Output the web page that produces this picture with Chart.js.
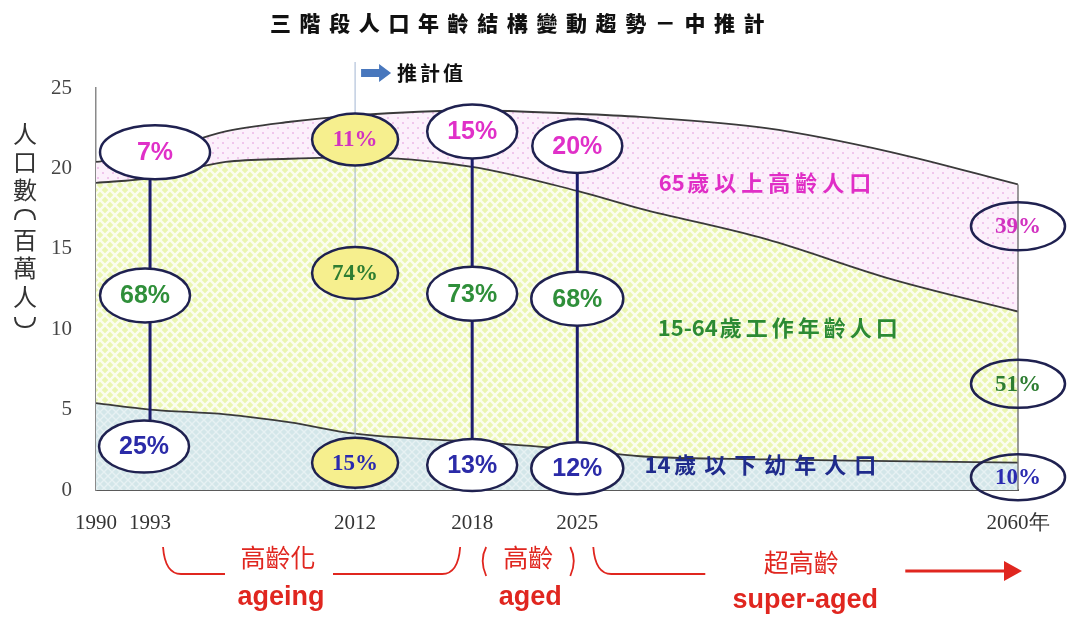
<!DOCTYPE html>
<html>
<head>
<meta charset="utf-8">
<script src="https://cdn.jsdelivr.net/npm/chart.js@4/dist/chart.umd.min.js"></script>
<style>
  html, body { margin: 0; padding: 0; background: #fff; }
</style>
</head>
<body>
<canvas id="popChart" width="1079" height="619"></canvas>
<script>
// population by age group, millions
let years   = [1990, 1993, 2000, 2006, 2012, 2018, 2025, 2030, 2040, 2050, 2060];
let child   = [5.4, 5.0, 4.7, 4.2, 3.5, 3.0, 2.5, 2.1, 1.9, 1.8, 1.7];
let working = [13.7, 14.4, 15.7, 16.4, 17.2, 17.1, 16.1, 15.4, 13.7, 11.3, 9.4];
let elderly = [1.3, 1.5, 1.9, 2.3, 2.6, 3.5, 4.8, 5.7, 6.9, 7.9, 7.9];

let tickYears = [1990, 1993, 2012, 2018, 2025, 2060];
let yTicks    = [0, 5, 10, 15, 20, 25];

// share of each group at the marked years, %
let markYears = [1993, 2012, 2018, 2025, 2060];
let elderPct  = [7, 11, 15, 20, 39];
let workPct   = [68, 74, 73, 68, 51];
let childPct  = [25, 15, 13, 12, 10];

// the source figure spaces its years unevenly, so the x axis is piecewise
let axisFrac = [0, 0.0586, 0.281, 0.408, 0.522, 1];

const BaseLinear = Chart.LinearScale || Chart.scales.LinearScale;
class YearScale extends BaseLinear {
  getPixelForValue(value) {
    if (value === null || value === undefined) return NaN;
    let f = 0;
    for (let i = 1; i < tickYears.length; i++) {
      if (value <= tickYears[i] || i === tickYears.length - 1) {
        let t = (value - tickYears[i - 1]) / (tickYears[i] - tickYears[i - 1]);
        f = axisFrac[i - 1] + t * (axisFrac[i] - axisFrac[i - 1]);
        break;
      }
    }
    return this.getPixelForDecimal(f);
  }
  getValueForPixel(pixel) {
    let f = this.getDecimalForPixel(pixel);
    for (let i = 1; i < axisFrac.length; i++) {
      if (f <= axisFrac[i] || i === axisFrac.length - 1) {
        let t = (f - axisFrac[i - 1]) / (axisFrac[i] - axisFrac[i - 1]);
        return tickYears[i - 1] + t * (tickYears[i] - tickYears[i - 1]);
      }
    }
  }
}
YearScale.id = 'yearAxis';
YearScale.defaults = BaseLinear.defaults;
Chart.register(YearScale);

function makePattern(base, size, paint) {
  let c = document.createElement('canvas');
  c.width = size; c.height = size;
  let g = c.getContext('2d');
  g.fillStyle = base;
  g.fillRect(0, 0, size, size);
  paint(g, size);
  return g.createPattern(c, 'repeat');
}

function crossLines(color, width) {
  return (g, s) => {
    g.strokeStyle = color; g.lineWidth = width;
    g.beginPath();
    g.moveTo(0, 0); g.lineTo(s, s);
    g.moveTo(s, 0); g.lineTo(0, s);
    g.stroke();
  };
}

let childFill = makePattern('#d3e6e9', 8, crossLines('rgba(255,255,255,0.45)', 1.4));
let workFill  = makePattern('#eaf5b0', 10, crossLines('rgba(255,255,255,0.8)', 2.4));
let elderFill = makePattern('#fcf0fb', 10, (g) => {
  g.fillStyle = '#f0c6ec';
  g.fillRect(2, 2, 2, 2);
  g.fillRect(7, 7, 2, 2);
});

let series = (vals) => years.map((yr, i) => ({ x: yr, y: vals[i] }));

// where the percentage ovals sit (value units on the y axis)
let badgeLayout = {
  elderAt: [21.0, 21.8, 22.3, 21.4, 16.4],
  workAt:  [12.1, 13.5, 12.2, 11.9, 6.6],
  childAt: [2.7, 1.7, 1.55, 1.35, 0.8],
  elderRx: [55, 43, 45, 45, 47],
  rx:      [45, 43, 45, 46, 47],
  ry:      [27, 26, 27, 27, 24],
  serif:   [false, true, false, false, true],
  fill:    ['#ffffff', '#f6ef8e', '#ffffff', '#ffffff', null],
  link:    [true, false, true, true, false]
};

function badge(ctx, cx, cy, rx, ry, text, color, fill, serif) {
  ctx.beginPath();
  ctx.ellipse(cx, cy, rx, ry, 0, 0, Math.PI * 2);
  if (fill) { ctx.fillStyle = fill; ctx.fill(); }
  ctx.lineWidth = 2.5;
  ctx.strokeStyle = '#1f2150';
  ctx.stroke();
  ctx.fillStyle = color;
  ctx.font = serif ? 'bold 23px "Liberation Serif"' : 'bold 25px "Liberation Sans"';
  ctx.textAlign = 'center';
  ctx.textBaseline = 'middle';
  ctx.fillText(text, cx, cy + 1);
}

function spacedText(ctx, text, x, y, spacing) {
  ctx.letterSpacing = spacing + 'px';
  ctx.fillText(text, x, y);
  ctx.letterSpacing = '0px';
}

// number part unspaced, Chinese part letter-spaced, whole thing centred on cx
function areaLabel(ctx, head, rest, cx, cy, spacing) {
  ctx.textAlign = 'left';
  ctx.letterSpacing = '0px';
  let w1 = ctx.measureText(head).width;
  ctx.letterSpacing = spacing + 'px';
  let w2 = ctx.measureText(rest).width;
  let left = cx - (w1 + w2) / 2;
  ctx.letterSpacing = '0px';
  ctx.fillText(head, left, cy);
  ctx.letterSpacing = spacing + 'px';
  ctx.fillText(rest, left + w1 + spacing / 2, cy);
  ctx.letterSpacing = '0px';
}

const overlay = {
  id: 'overlay',
  afterDraw(chart) {
    const { ctx, chartArea: area, scales: { x, y } } = chart;
    ctx.save();

    // right edge of the areas at 2060
    let last = years.length - 1;
    let xr = x.getPixelForValue(years[last]);
    ctx.strokeStyle = '#7a7a7a'; ctx.lineWidth = 1.5;
    ctx.beginPath();
    ctx.moveTo(xr, y.getPixelForValue(child[last] + working[last] + elderly[last]));
    ctx.lineTo(xr, area.bottom);
    ctx.stroke();

    // projection divider + label
    let xp = x.getPixelForValue(2012);
    ctx.strokeStyle = '#a3b6d2'; ctx.lineWidth = 1;
    ctx.beginPath(); ctx.moveTo(xp, 62); ctx.lineTo(xp, area.bottom); ctx.stroke();
    ctx.fillStyle = '#4877bd';
    ctx.beginPath();
    ctx.moveTo(xp + 6, 69); ctx.lineTo(xp + 24, 69); ctx.lineTo(xp + 24, 64);
    ctx.lineTo(xp + 36, 73); ctx.lineTo(xp + 24, 82); ctx.lineTo(xp + 24, 77);
    ctx.lineTo(xp + 6, 77); ctx.closePath(); ctx.fill();
    ctx.fillStyle = '#111';
    ctx.font = 'bold 20px "Noto Sans CJK TC"';
    ctx.textAlign = 'left'; ctx.textBaseline = 'middle';
    spacedText(ctx, '推計值', xp + 42, 73, 3);

    // title
    ctx.fillStyle = '#111';
    ctx.font = '900 21px "Noto Sans CJK TC"';
    ctx.textAlign = 'left';
    spacedText(ctx, '三階段人口年齡結構變動趨勢－中推計', 270, 23, 8.6);

    // y axis title, stacked vertically
    let yTitle = ['人', '口', '數', '', '百', '萬', '人', ''];
    let yPos = [134, 162, 190, 215, 240, 268, 297, 322];
    ctx.fillStyle = '#333';
    ctx.font = '24px "Noto Sans CJK TC"';
    ctx.textAlign = 'center';
    yTitle.forEach((ch, i) => { if (ch) ctx.fillText(ch, 25, yPos[i]); });
    // vertical-form brackets
    ctx.strokeStyle = '#333'; ctx.lineWidth = 1.8;
    ctx.beginPath();
    ctx.moveTo(15, yPos[3] + 5); ctx.quadraticCurveTo(15, yPos[3] - 5, 25, yPos[3] - 5);
    ctx.quadraticCurveTo(35, yPos[3] - 5, 35, yPos[3] + 5);
    ctx.moveTo(15, yPos[7] - 5); ctx.quadraticCurveTo(15, yPos[7] + 5, 25, yPos[7] + 5);
    ctx.quadraticCurveTo(35, yPos[7] + 5, 35, yPos[7] - 5);
    ctx.stroke();

    // area names
    ctx.font = 'bold 22px "Noto Sans CJK TC"';
    ctx.fillStyle = '#e02ec6';
    areaLabel(ctx, '65', '歲以上高齡人口', x.getPixelForValue(2040), y.getPixelForValue(19.1), 5);
    ctx.fillStyle = '#2c8a34';
    areaLabel(ctx, '15-64', '歲工作年齡人口', x.getPixelForValue(2041), y.getPixelForValue(10.1), 4);
    ctx.fillStyle = '#1f2b8c';
    areaLabel(ctx, '14', '歲以下幼年人口', x.getPixelForValue(2039.7), y.getPixelForValue(1.55), 8);

    // connectors between the ovals
    ctx.strokeStyle = '#1c1c6e'; ctx.lineWidth = 3;
    markYears.forEach((yr, i) => {
      if (!badgeLayout.link[i]) return;
      let cx = x.getPixelForValue(yr);
      ctx.beginPath();
      ctx.moveTo(cx, y.getPixelForValue(badgeLayout.elderAt[i]));
      ctx.lineTo(cx, y.getPixelForValue(badgeLayout.childAt[i]));
      ctx.stroke();
    });

    // percentage ovals
    markYears.forEach((yr, i) => {
      let cx = x.getPixelForValue(yr);
      let L = badgeLayout;
      let serif = L.serif[i];
      badge(ctx, cx + (i === 0 ? 5 : 0), y.getPixelForValue(L.elderAt[i]), L.elderRx[i], L.ry[i],
        elderPct[i] + '%', serif ? '#d232c0' : '#e030c8', L.fill[i], serif);
      badge(ctx, cx - (i === 0 ? 5 : 0), y.getPixelForValue(L.workAt[i]), L.rx[i], L.ry[i],
        workPct[i] + '%', serif ? '#2e7d32' : '#2f8f3a', L.fill[i], serif);
      badge(ctx, cx - (i === 0 ? 6 : 0), y.getPixelForValue(L.childAt[i]), L.rx[i], L.ry[i] - 1,
        childPct[i] + '%', serif ? '#2a2ab0' : '#2b2ba8', L.fill[i], serif);
    });

    // ageing stages under the axis
    let red = '#e0261f';
    ctx.strokeStyle = red; ctx.fillStyle = red; ctx.lineWidth = 1.8;
    let top = 547, base = 574;
    let a0 = x.getPixelForValue(1993) + 13, a1 = x.getPixelForValue(2018) - 12;
    ctx.beginPath();
    ctx.moveTo(a0, top); ctx.quadraticCurveTo(a0 + 2, base, a0 + 18, base); ctx.lineTo(a0 + 62, base);
    ctx.moveTo(a0 + 170, base); ctx.lineTo(a1 - 18, base); ctx.quadraticCurveTo(a1 - 2, base, a1, top);
    let b0 = x.getPixelForValue(2018) + 11, b1 = x.getPixelForValue(2025) - 4;
    ctx.moveTo(b0 + 3, top); ctx.quadraticCurveTo(b0 - 4, (top + base) / 2, b0 + 3, base + 2);
    ctx.moveTo(b1 - 3, top); ctx.quadraticCurveTo(b1 + 4, (top + base) / 2, b1 - 3, base + 2);
    let c0 = x.getPixelForValue(2025) + 16, c1 = x.getPixelForValue(2060);
    ctx.moveTo(c0, top); ctx.quadraticCurveTo(c0 + 2, base, c0 + 18, base); ctx.lineTo(c0 + 112, base);
    ctx.stroke();
    ctx.lineWidth = 3;
    ctx.beginPath(); ctx.moveTo(c0 + 312, 571); ctx.lineTo(c1 - 10, 571); ctx.stroke();
    ctx.beginPath();
    ctx.moveTo(c1 + 4, 571); ctx.lineTo(c1 - 14, 561); ctx.lineTo(c1 - 14, 581); ctx.closePath(); ctx.fill();

    ctx.textAlign = 'center'; ctx.textBaseline = 'middle';
    ctx.font = '25px "Noto Sans CJK TC"';
    ctx.fillText('高齡化', a0 + 115, 557);
    ctx.fillText('高齡', (b0 + b1) / 2, 557);
    ctx.fillText('超高齡', c0 + 208, 562);
    ctx.font = 'bold 27px "Liberation Sans"';
    ctx.fillText('ageing', a0 + 118, 598);
    ctx.fillText('aged', (b0 + b1) / 2 + 2, 598);
    ctx.fillText('super-aged', c0 + 212, 601);

    ctx.restore();
  }
};

let tickFont = { family: '"Liberation Serif", serif', size: 21 };

new Chart(document.getElementById('popChart').getContext('2d'), {
  type: 'line',
  data: {
    datasets: [
      {
        label: '14歲以下幼年人口',
        data: series(child),
        fill: 'origin',
        backgroundColor: childFill,
        borderColor: '#3a3a3a',
        borderWidth: 1.8,
        pointRadius: 0,
        cubicInterpolationMode: 'monotone'
      },
      {
        label: '15-64歲工作年齡人口',
        data: series(working),
        fill: '-1',
        backgroundColor: workFill,
        borderColor: '#3a3a3a',
        borderWidth: 1.8,
        pointRadius: 0,
        cubicInterpolationMode: 'monotone'
      },
      {
        label: '65歲以上高齡人口',
        data: series(elderly),
        fill: '-1',
        backgroundColor: elderFill,
        borderColor: '#3a3a3a',
        borderWidth: 1.8,
        pointRadius: 0,
        cubicInterpolationMode: 'monotone'
      }
    ]
  },
  options: {
    responsive: false,
    animation: false,
    events: [],
    layout: { padding: { top: 88, right: 61, bottom: 74, left: 0 } },
    plugins: {
      legend: { display: false },
      tooltip: { enabled: false },
      title: { display: false }
    },
    scales: {
      x: {
        type: 'yearAxis',
        min: 1990,
        max: 2060,
        z: 1,
        afterBuildTicks: s => { s.ticks = tickYears.map(v => ({ value: v })); },
        afterFit: s => { s.height = 55; },
        grid: { display: false },
        border: { color: '#5a5a5a', width: 2 },
        ticks: {
          autoSkip: false,
          maxRotation: 0,
          padding: 13,
          color: '#333',
          font: tickFont,
          callback: v => v === 2060 ? '2060年' : String(v)
        }
      },
      y: {
        stacked: true,
        min: 0,
        max: 25,
        z: 1,
        afterBuildTicks: s => { s.ticks = yTicks.map(v => ({ value: v })); },
        afterFit: s => { s.width = 96; },
        grid: { display: false },
        border: { color: '#8a8a8a', width: 1.5 },
        ticks: { padding: 16, color: '#444', font: tickFont }
      }
    }
  },
  plugins: [overlay]
});
</script>
</body>
</html>
